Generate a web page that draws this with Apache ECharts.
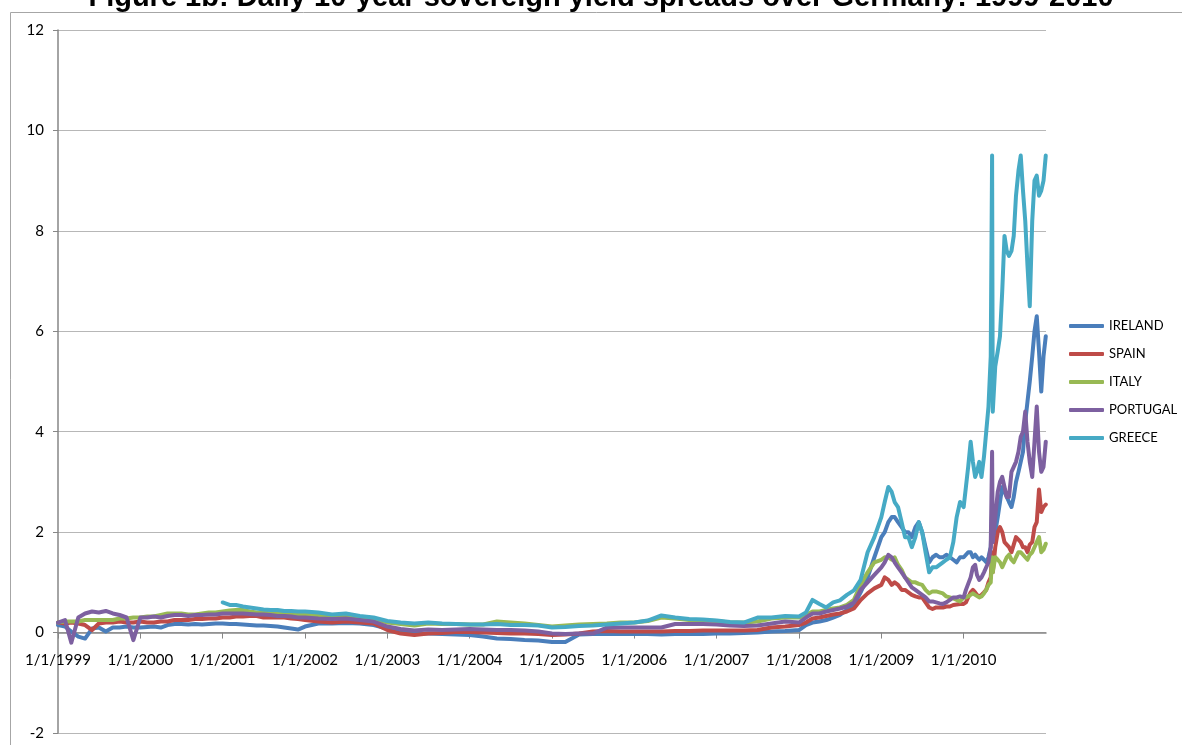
<!DOCTYPE html>
<html>
<head>
<meta charset="utf-8">
<title>Daily 10-year sovereign yield spreads over Germany</title>
<script src="https://cdn.jsdelivr.net/npm/echarts@6/dist/echarts.min.js"></script>
<style>
  html, body { margin: 0; padding: 0; background: #fff; }
  #chart { width: 1182px; height: 745px; }
</style>
</head>
<body>
<div id="chart"></div>
<script>
// sample dates (monthly 1999-2001, every two months 2002-2007, denser for the crisis years)
const dates = [
  '1999-01-01','1999-02-01','1999-03-01','1999-04-01','1999-05-01','1999-06-01','1999-07-01','1999-08-01','1999-09-01','1999-10-01','1999-11-01','1999-12-01',
  '2000-01-01','2000-02-01','2000-03-01','2000-04-01','2000-05-01','2000-06-01','2000-07-01','2000-08-01','2000-09-01','2000-10-01','2000-11-01','2000-12-01',
  '2001-01-01','2001-02-01','2001-03-01','2001-04-01','2001-05-01','2001-06-01','2001-07-01','2001-08-01','2001-09-01','2001-10-01','2001-11-01','2001-12-01',
  '2002-01-01','2002-03-01','2002-05-01','2002-07-01','2002-09-01','2002-11-01',
  '2003-01-01','2003-03-01','2003-05-01','2003-07-01','2003-09-01','2003-11-01',
  '2004-01-01','2004-03-01','2004-05-01','2004-07-01','2004-09-01','2004-11-01',
  '2005-01-01','2005-03-01','2005-05-01','2005-07-01','2005-09-01','2005-11-01',
  '2006-01-01','2006-03-01','2006-05-01','2006-07-01','2006-09-01','2006-11-01',
  '2007-01-01','2007-03-01','2007-05-01','2007-07-01','2007-09-01','2007-11-01',
  '2008-01-01','2008-02-01','2008-03-01','2008-04-01','2008-05-01','2008-06-01','2008-07-01','2008-08-01','2008-09-01','2008-10-01','2008-11-01','2008-12-01',
  '2009-01-01','2009-01-16','2009-02-01','2009-02-16','2009-03-01','2009-03-16','2009-04-01','2009-04-16','2009-05-01','2009-05-16','2009-06-01','2009-06-16',
  '2009-07-01','2009-07-16','2009-08-01','2009-08-16','2009-09-01','2009-09-16','2009-10-01','2009-10-16','2009-11-01','2009-11-16','2009-12-01','2009-12-16',
  '2010-01-01','2010-01-11','2010-01-21','2010-02-01','2010-02-11','2010-02-21','2010-03-01','2010-03-11','2010-03-21','2010-04-01','2010-04-11','2010-04-21',
  '2010-05-01','2010-05-07','2010-05-10','2010-05-21','2010-06-01','2010-06-11','2010-06-21','2010-07-01','2010-07-11','2010-07-21',
  '2010-08-01','2010-08-11','2010-08-21','2010-09-01','2010-09-11','2010-09-21','2010-10-01','2010-10-11','2010-10-21',
  '2010-11-01','2010-11-11','2010-11-21','2010-12-01','2010-12-11','2010-12-21','2010-12-31'
];

const ireland = [
  0.15, 0.12, 0.02, -0.08, -0.12, 0.08, 0.1, 0.02, 0.1, 0.1, 0.12, 0.1,
  0.1, 0.11, 0.12, 0.1, 0.15, 0.17, 0.17, 0.16, 0.17, 0.16, 0.17, 0.18,
  0.18, 0.17, 0.17, 0.16, 0.15, 0.14, 0.14, 0.13, 0.12, 0.1, 0.08, 0.06,
  0.12, 0.18, 0.18, 0.19, 0.18, 0.15,
  0.08, 0.0, -0.02, -0.02, -0.03, -0.04,
  -0.05, -0.08, -0.12, -0.13, -0.15, -0.16,
  -0.19, -0.19, -0.04, -0.03, -0.03, -0.03,
  -0.03, -0.03, -0.04, -0.03, -0.03, -0.03,
  -0.02, -0.02, -0.01, 0.0, 0.02, 0.03,
  0.05, 0.15, 0.2, 0.22, 0.25, 0.3, 0.35, 0.45, 0.55, 0.8, 1.1, 1.5,
  1.9, 2.0, 2.2, 2.3, 2.3, 2.2, 2.1, 2.0, 2.0, 1.9, 2.1, 2.2,
  2.0, 1.7, 1.4, 1.5, 1.55, 1.5, 1.5, 1.55, 1.5, 1.45, 1.4, 1.5,
  1.5, 1.55, 1.6, 1.6, 1.5, 1.55, 1.5, 1.45, 1.5, 1.45, 1.4, 1.5,
  1.7, 2.4, 1.9, 2.0, 2.3, 2.6, 2.9, 2.8, 2.7, 2.6,
  2.5, 2.7, 3.0, 3.2, 3.4, 3.6, 4.2, 4.6, 5.0,
  5.5, 6.0, 6.3, 5.6, 4.8, 5.5, 5.9
];

const spain = [
  0.2, 0.18, 0.2, 0.18, 0.15, 0.05, 0.18, 0.2, 0.2, 0.22, 0.2, 0.2,
  0.22, 0.2, 0.2, 0.22, 0.22, 0.25, 0.25, 0.25, 0.27, 0.27, 0.28, 0.28,
  0.3, 0.3, 0.32, 0.32, 0.33, 0.33, 0.3, 0.3, 0.3, 0.3, 0.28, 0.27,
  0.25, 0.22, 0.2, 0.22, 0.2, 0.18,
  0.05, -0.02, -0.05, -0.02, -0.01, 0.01,
  0.01, 0.0, -0.01, -0.02, -0.02, -0.03,
  -0.05, -0.04, -0.02, 0.02, 0.03, 0.02,
  0.02, 0.02, 0.02, 0.03, 0.03, 0.04,
  0.04, 0.04, 0.04, 0.05, 0.1, 0.12,
  0.15, 0.2, 0.28, 0.3, 0.33, 0.36, 0.38, 0.42, 0.48, 0.65, 0.78, 0.88,
  0.95, 1.1, 1.05, 0.95, 1.0, 0.95, 0.85, 0.85, 0.8, 0.75, 0.72, 0.7,
  0.7, 0.6, 0.5, 0.47, 0.5, 0.5, 0.5, 0.52, 0.52, 0.55, 0.56, 0.57,
  0.57, 0.6, 0.7, 0.8, 0.85, 0.8, 0.75, 0.72, 0.75, 0.8, 0.85, 1.0,
  1.1, 1.6, 1.2, 1.7, 2.0, 2.1, 2.0, 1.8, 1.75, 1.7,
  1.6, 1.75, 1.9, 1.85, 1.8, 1.7, 1.7, 1.6, 1.75,
  1.8, 2.1, 2.2, 2.85, 2.4, 2.5, 2.55
];

const italy = [
  0.2, 0.22, 0.22, 0.22, 0.25, 0.25, 0.25, 0.25, 0.25, 0.28, 0.28, 0.3,
  0.3, 0.32, 0.32, 0.35, 0.38, 0.38, 0.38, 0.36, 0.36, 0.38, 0.4, 0.4,
  0.42, 0.44, 0.45, 0.45, 0.42, 0.4, 0.4, 0.38, 0.38, 0.38, 0.36, 0.35,
  0.36, 0.34, 0.33, 0.33, 0.3, 0.28,
  0.2, 0.17, 0.14, 0.18, 0.17, 0.17,
  0.16, 0.16, 0.22, 0.2, 0.18, 0.15,
  0.12, 0.14, 0.16, 0.17, 0.18, 0.2,
  0.2, 0.23, 0.3, 0.28, 0.25, 0.24,
  0.23, 0.2, 0.2, 0.22, 0.28, 0.3,
  0.3, 0.35, 0.42, 0.42, 0.45, 0.48, 0.5, 0.55, 0.65, 0.95, 1.2, 1.4,
  1.45, 1.5, 1.5, 1.45, 1.5, 1.35, 1.25, 1.1, 1.05, 1.0, 1.0, 0.97,
  0.95, 0.85, 0.78, 0.82, 0.82, 0.8, 0.78, 0.72, 0.7, 0.68, 0.65, 0.62,
  0.7, 0.7, 0.72, 0.75, 0.78, 0.75, 0.72, 0.7, 0.72, 0.78, 0.85, 0.95,
  1.0, 1.5, 1.2, 1.5, 1.45, 1.4, 1.3, 1.4, 1.5, 1.55,
  1.45, 1.4, 1.5, 1.6, 1.6, 1.55, 1.5, 1.45, 1.55,
  1.6, 1.7, 1.8, 1.9, 1.6, 1.65, 1.77
];

const portugal = [
  0.2, 0.25, -0.2, 0.3, 0.38, 0.42, 0.4, 0.43, 0.38, 0.35, 0.3, -0.15,
  0.3, 0.3, 0.32, 0.3, 0.33, 0.35, 0.35, 0.33, 0.35, 0.35, 0.36, 0.36,
  0.38, 0.38, 0.38, 0.38, 0.37, 0.36, 0.36, 0.35, 0.33, 0.33, 0.32, 0.3,
  0.3, 0.28, 0.27, 0.28, 0.25, 0.22,
  0.12, 0.07, 0.04, 0.06, 0.05, 0.06,
  0.07, 0.06, 0.05, 0.05, 0.04, 0.02,
  -0.02, -0.03, -0.02, -0.02, 0.1, 0.1,
  0.1, 0.1, 0.1, 0.17, 0.17, 0.17,
  0.16, 0.14, 0.13, 0.14, 0.18, 0.22,
  0.2, 0.3, 0.38, 0.38, 0.42, 0.45, 0.48, 0.52, 0.6, 0.85, 1.0, 1.15,
  1.3, 1.4, 1.55, 1.5, 1.4, 1.3, 1.2, 1.1, 1.0, 0.9, 0.85, 0.8,
  0.75, 0.7, 0.62, 0.62, 0.6, 0.58, 0.57, 0.6, 0.65, 0.7, 0.7, 0.72,
  0.7, 0.85, 0.97, 1.1, 1.3, 1.35, 1.15, 1.05, 1.1, 1.2, 1.3, 1.4,
  1.7, 3.6, 1.8, 2.3, 2.8, 3.0, 3.1, 2.9, 2.7, 2.7,
  3.2, 3.3, 3.4, 3.6, 3.9, 4.0, 4.4, 3.8, 3.4,
  3.1, 3.8, 4.5, 3.6, 3.2, 3.3, 3.8
];

// Greece joins the euro in 2001
const greece = [
  null, null, null, null, null, null, null, null, null, null, null, null,
  null, null, null, null, null, null, null, null, null, null, null, null,
  0.6, 0.55, 0.55, 0.52, 0.5, 0.48, 0.46, 0.45, 0.45, 0.43, 0.43, 0.42,
  0.42, 0.4, 0.36, 0.38, 0.33, 0.3,
  0.23, 0.2, 0.18, 0.2, 0.18, 0.17,
  0.16, 0.16, 0.17, 0.15, 0.15, 0.14,
  0.1, 0.11, 0.13, 0.14, 0.16, 0.18,
  0.2, 0.24, 0.34, 0.3, 0.27, 0.26,
  0.24, 0.21, 0.2, 0.3, 0.3, 0.33,
  0.32, 0.4, 0.65, 0.57, 0.5, 0.6, 0.64, 0.75, 0.84, 1.05, 1.6, 1.9,
  2.3, 2.6, 2.9, 2.8, 2.6, 2.5, 2.2, 1.9, 1.9, 1.7, 1.9, 2.2,
  2.0, 1.6, 1.2, 1.3, 1.3, 1.35, 1.4, 1.45, 1.5, 1.8, 2.3, 2.6,
  2.5, 2.9, 3.3, 3.8, 3.4, 3.1, 3.2, 3.4, 3.1, 3.5, 4.0, 4.5,
  5.5, 9.5, 4.4, 5.3, 5.6, 5.9, 6.8, 7.9, 7.6, 7.5,
  7.6, 7.9, 8.7, 9.2, 9.5, 8.8, 8.2, 7.3, 6.5,
  8.2, 9.0, 9.1, 8.7, 8.8, 9.0, 9.5
];

const seriesNames = ['IRELAND', 'SPAIN', 'ITALY', 'PORTUGAL', 'GREECE'];
const seriesColors = ['#4a7ebb', '#be4b48', '#98b954', '#7d60a0', '#46aac5'];
const seriesValues = [ireland, spain, italy, portugal, greece];

// x axis runs in decimal years, ticks on 1 January
function toYear(s) {
  const y = +s.slice(0, 4), m = +s.slice(5, 7) - 1, d = +s.slice(8, 10);
  const start = Date.UTC(y, 0, 1), end = Date.UTC(y + 1, 0, 1);
  return y + (Date.UTC(y, m, d) - start) / (end - start);
}
const xs = dates.map(toYear);

const yMin = -2, yMax = 12;
const gridTop = 30, gridBottom = 12;
const gridHeight = 745 - gridTop - gridBottom;
// the date axis sits on the zero line, as in the spreadsheet chart
const xAxisOffset = -gridHeight * (0 - yMin) / (yMax - yMin);

const labelFont = 'Lato';

const chart = echarts.init(document.getElementById('chart'));

chart.setOption({
  animation: false,
  backgroundColor: '#fff',
  graphic: [
    {
      type: 'rect',
      silent: true,
      shape: { x: 10.5, y: 12.5, width: 1400, height: 900 },
      style: { fill: 'none', stroke: '#a6a6a6', lineWidth: 1 }
    },
    {
      type: 'text',
      silent: true,
      style: {
        text: 'Figure 1b: Daily 10-year sovereign yield spreads over Germany: 1999-2010',
        x: 601,
        y: 12,
        textAlign: 'center',
        textVerticalAlign: 'bottom',
        fontFamily: 'Liberation Sans',
        fontWeight: 'bold',
        fontSize: 29,
        fill: '#000'
      }
    }
  ],
  grid: { left: 58, right: 136, top: gridTop, bottom: gridBottom, containLabel: false, outerBoundsMode: 'none' },
  legend: {
    orient: 'vertical',
    left: 1069,
    top: 317,
    padding: 0,
    icon: 'roundRect',
    itemWidth: 35,
    itemHeight: 4,
    itemGap: 10,
    data: seriesNames,
    textStyle: { fontFamily: labelFont, fontSize: 13, color: '#000', lineHeight: 18 }
  },
  xAxis: {
    type: 'value',
    min: 1999,
    max: 2011,
    interval: 1,
    position: 'bottom',
    offset: xAxisOffset,
    axisLine: { onZero: false, lineStyle: { color: '#868686', width: 1.5 } },
    axisTick: { show: true, length: 6, lineStyle: { color: '#868686' } },
    splitLine: { show: false },
    axisLabel: {
      showMaxLabel: false,
      margin: 20,
      fontFamily: labelFont,
      fontSize: 15,
      color: '#000',
      formatter: v => '1/1/' + v
    }
  },
  yAxis: {
    type: 'value',
    min: yMin,
    max: yMax,
    interval: 2,
    axisLine: { show: true, onZero: false, lineStyle: { color: '#868686', width: 1.5 } },
    axisTick: { show: true, length: 5, lineStyle: { color: '#868686' } },
    splitLine: { show: true, lineStyle: { color: '#b7b7b7', width: 1 } },
    axisLabel: { margin: 14, fontFamily: labelFont, fontSize: 15, color: '#000' }
  },
  series: seriesNames.map((name, i) => ({
    name: name,
    type: 'line',
    showSymbol: false,
    symbol: 'none',
    connectNulls: false,
    color: seriesColors[i],
    lineStyle: { width: 4, color: seriesColors[i], cap: 'round', join: 'round' },
    data: xs.map((x, j) => [x, seriesValues[i][j]])
  }))
});
</script>
</body>
</html>
